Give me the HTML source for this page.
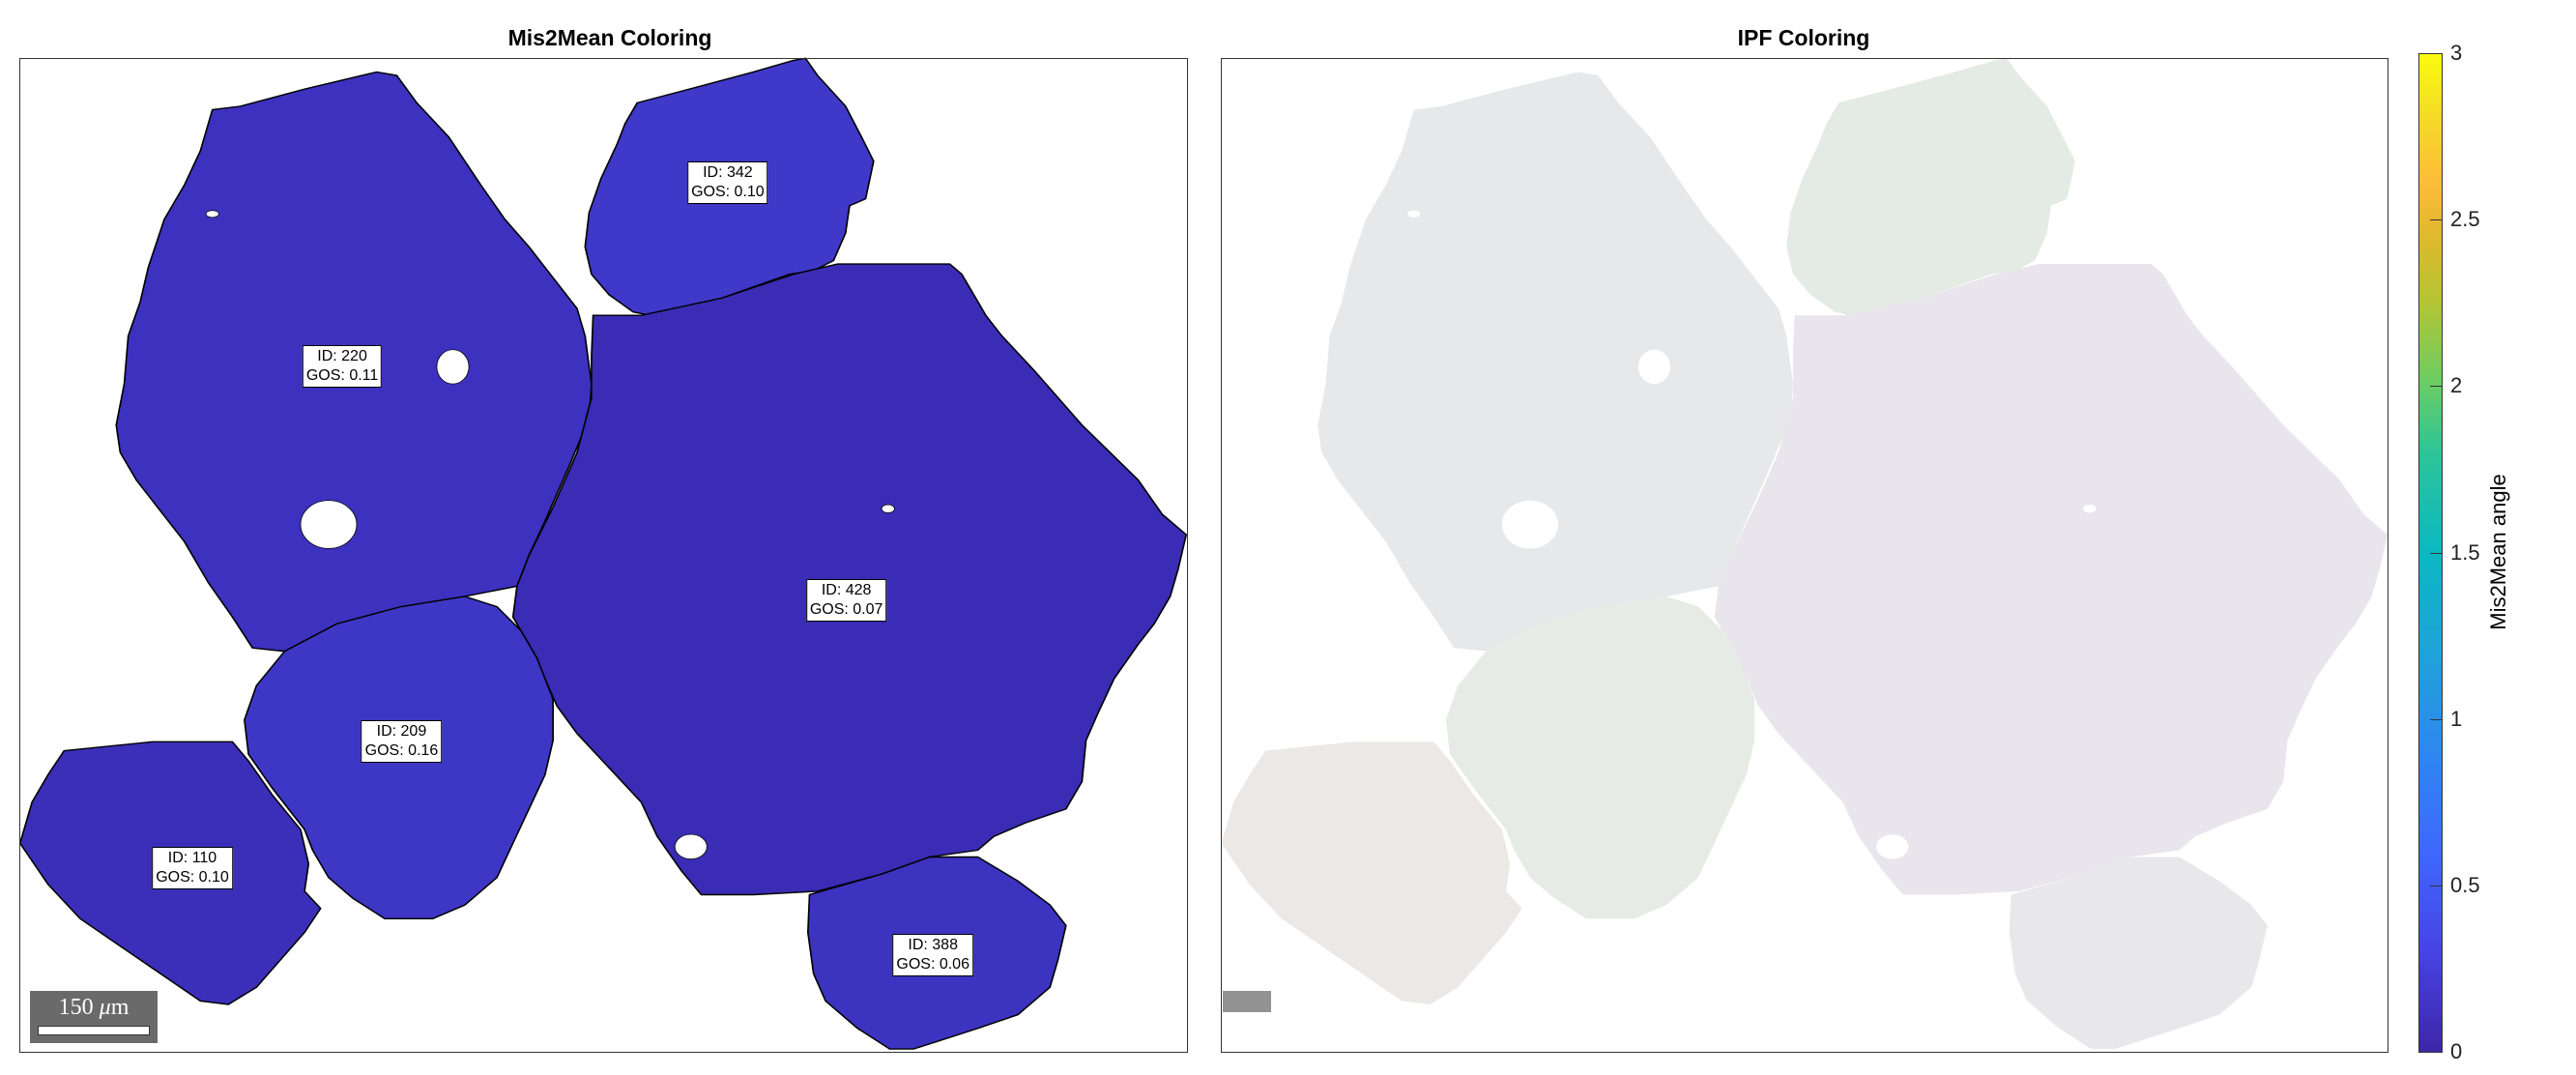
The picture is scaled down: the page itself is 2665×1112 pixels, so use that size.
<!DOCTYPE html>
<html><head><meta charset="utf-8"><style>
body{margin:0;background:#fff;width:2665px;height:1112px;position:relative;overflow:hidden;font-family:"Liberation Sans",sans-serif}
.title{position:absolute;top:26px;font-weight:bold;font-size:23px;color:#000;transform:translateX(-50%)}
.lbl{position:absolute;background:#fff;border:1px solid #000;font-size:16px;line-height:20px;text-align:center;white-space:nowrap;padding:1px 3px;transform:translate(-50%,-50%);color:#000}
.tick{position:absolute;left:2535px;font-size:22px;color:#222;transform:translateY(-50%)}
</style></head><body>
<div class="title" style="left:631px">Mis2Mean Coloring</div>
<div class="title" style="left:1866px">IPF Coloring</div>
<svg id="map" style="position:absolute;left:0;top:0" width="2665" height="1112" viewBox="0 0 3214 1568" preserveAspectRatio="none"></svg>
<div style="position:absolute;left:20px;top:60px;width:1207px;height:1027px;border:1.5px solid #333"></div>
<div style="position:absolute;left:1263px;top:60px;width:1206px;height:1027px;border:1.5px solid #333"></div>
<div style="position:absolute;left:31px;top:1025px;width:132px;height:54px;background:#6a6a6a">
 <div style="position:absolute;left:0;right:0;top:4px;text-align:center;color:#fff;font-family:'Liberation Serif',serif;font-size:24px">150 <i>μ</i>m</div>
 <div style="position:absolute;left:8px;right:8px;bottom:8px;height:8px;background:#fff;border:1px solid #333"></div>
</div>
<div style="position:absolute;left:1265px;top:1025px;width:50px;height:22px;background:#777;opacity:.8"></div>
<div style="position:absolute;left:2502px;top:55px;width:23px;height:1032px;border:1px solid #333;background:linear-gradient(to top,#3e26a8 0%,#4743e4 10%,#3e68fd 20%,#2e87f0 30%,#1fa3d8 40%,#0bb8c3 50%,#2dc498 60%,#6acd64 67%,#b3c534 75%,#e1b82d 82%,#fdbc3a 87%,#f5dc26 94%,#f9fb0e 100%)"></div>
<div style="position:absolute;left:2585px;top:571px;transform:translate(-50%,-50%) rotate(-90deg);font-size:22px;white-space:nowrap">Mis2Mean angle</div>
<script>
const cbTicks=[0,0.5,1,1.5,2,2.5,3];
const cbMin=0,cbMax=3;
const grainIds=[220,342,428,209,110,388];
const grainGos=["0.11","0.10","0.07","0.16","0.10","0.06"];
const labelX=[427,908,1056,501,240,1164];
const labelY=[534,266,875,1081,1266,1393];
const blues=["#3d31bf","#3f38c8","#3a2cb4","#3e37c6","#3b2fba","#3c33c0"];
const ipf=["#e6e8ea","#e4eae4","#e8e6ec","#e6ebe6","#ebe8e6","#e8e8ea"];
const grains=[
"265,160 300,155 380,130 470,105 495,110 520,150 560,200 600,270 630,320 660,360 690,405 720,450 730,490 738,560 735,610 710,680 680,760 660,810 645,855 580,870 500,885 420,910 355,950 315,945 290,900 260,850 230,790 200,745 170,700 150,660 145,620 155,560 160,490 175,440 185,390 205,320 230,270 250,220",
"795,150 860,130 940,105 990,88 1005,85 1020,110 1055,155 1075,200 1090,235 1080,290 1060,300 1055,340 1040,380 1015,395 985,400 900,435 820,462 790,455 760,430 738,400 730,360 735,310 750,260 770,210 780,180",
"740,460 800,460 900,435 990,400 1045,385 1185,385 1200,400 1230,460 1250,490 1290,540 1350,620 1420,700 1450,750 1480,780 1470,830 1460,870 1440,910 1420,940 1390,990 1370,1040 1355,1080 1350,1140 1330,1180 1280,1200 1240,1220 1220,1240 1160,1250 1100,1275 1020,1300 940,1305 875,1305 850,1270 820,1220 800,1170 760,1120 720,1070 695,1030 680,990 660,940 640,900 645,855 660,810 690,740 720,660 738,580 738,520",
"355,950 420,910 500,885 580,870 620,885 650,920 670,960 690,1020 690,1080 680,1130 660,1180 640,1230 620,1280 580,1320 540,1340 480,1340 440,1310 410,1280 390,1240 380,1210 340,1150 310,1100 305,1050 320,1000",
"80,1095 190,1082 290,1082 310,1110 340,1160 375,1210 385,1260 380,1300 400,1325 380,1360 350,1400 320,1440 285,1465 250,1460 200,1420 150,1380 100,1340 60,1290 25,1230 40,1170 60,1130",
"1010,1305 1100,1275 1160,1250 1220,1250 1270,1285 1310,1320 1330,1350 1320,1400 1310,1440 1270,1480 1220,1500 1180,1515 1140,1530 1110,1530 1070,1500 1030,1460 1015,1420 1008,1360"];
const NS="http://www.w3.org/2000/svg";
const svg=document.getElementById('map');
grains.forEach((p,i)=>{
  const a=document.createElementNS(NS,'polygon');
  a.setAttribute('points',p);a.setAttribute('fill',blues[i]);a.setAttribute('stroke','#000');a.setAttribute('stroke-width','2');
  
  
  svg.appendChild(a);
  const b=document.createElementNS(NS,'polygon');
  b.setAttribute('points',p);b.setAttribute('fill',ipf[i]);b.setAttribute('transform','translate(1499,0)');
  
  
  svg.appendChild(b);
});
[[565,535,20,25],[410,765,35,35],[862,1235,20,18],[1108,742,8,6],[265,312,8,5]].forEach(h=>{
 [0,1499].forEach(dx=>{
  const e=document.createElementNS(NS,'ellipse');
  e.setAttribute('cx',h[0]+dx);e.setAttribute('cy',h[1]);e.setAttribute('rx',h[2]);e.setAttribute('ry',h[3]);
  e.setAttribute('fill','#fff');e.setAttribute('stroke',dx?'none':'#000');
  
  
  svg.appendChild(e);
 });
});
labelX.forEach((x,i)=>{
  const d=document.createElement('div');
  d.className='lbl';d.style.left=(x/1.206)+'px';d.style.top=(labelY[i]/1.41)+'px';
  d.innerHTML='ID: '+grainIds[i]+'<br>GOS: '+grainGos[i];
  
  
  document.body.appendChild(d);
});
const cbTop=55,cbBot=1088;
const yC=v=>cbBot-(v-cbMin)/(cbMax-cbMin)*(cbBot-cbTop);
cbTicks.forEach(t=>{
  const l=document.createElement('div');
  l.className='tick';l.style.top=yC(t)+'px';l.textContent=String(t);
  
  
  document.body.appendChild(l);
  const m=document.createElement('div');
  m.style.cssText='position:absolute;left:2514px;width:12px;height:1px;background:#333;top:'+yC(t)+'px';
  
  
  document.body.appendChild(m);
});
</script>
</body></html>
